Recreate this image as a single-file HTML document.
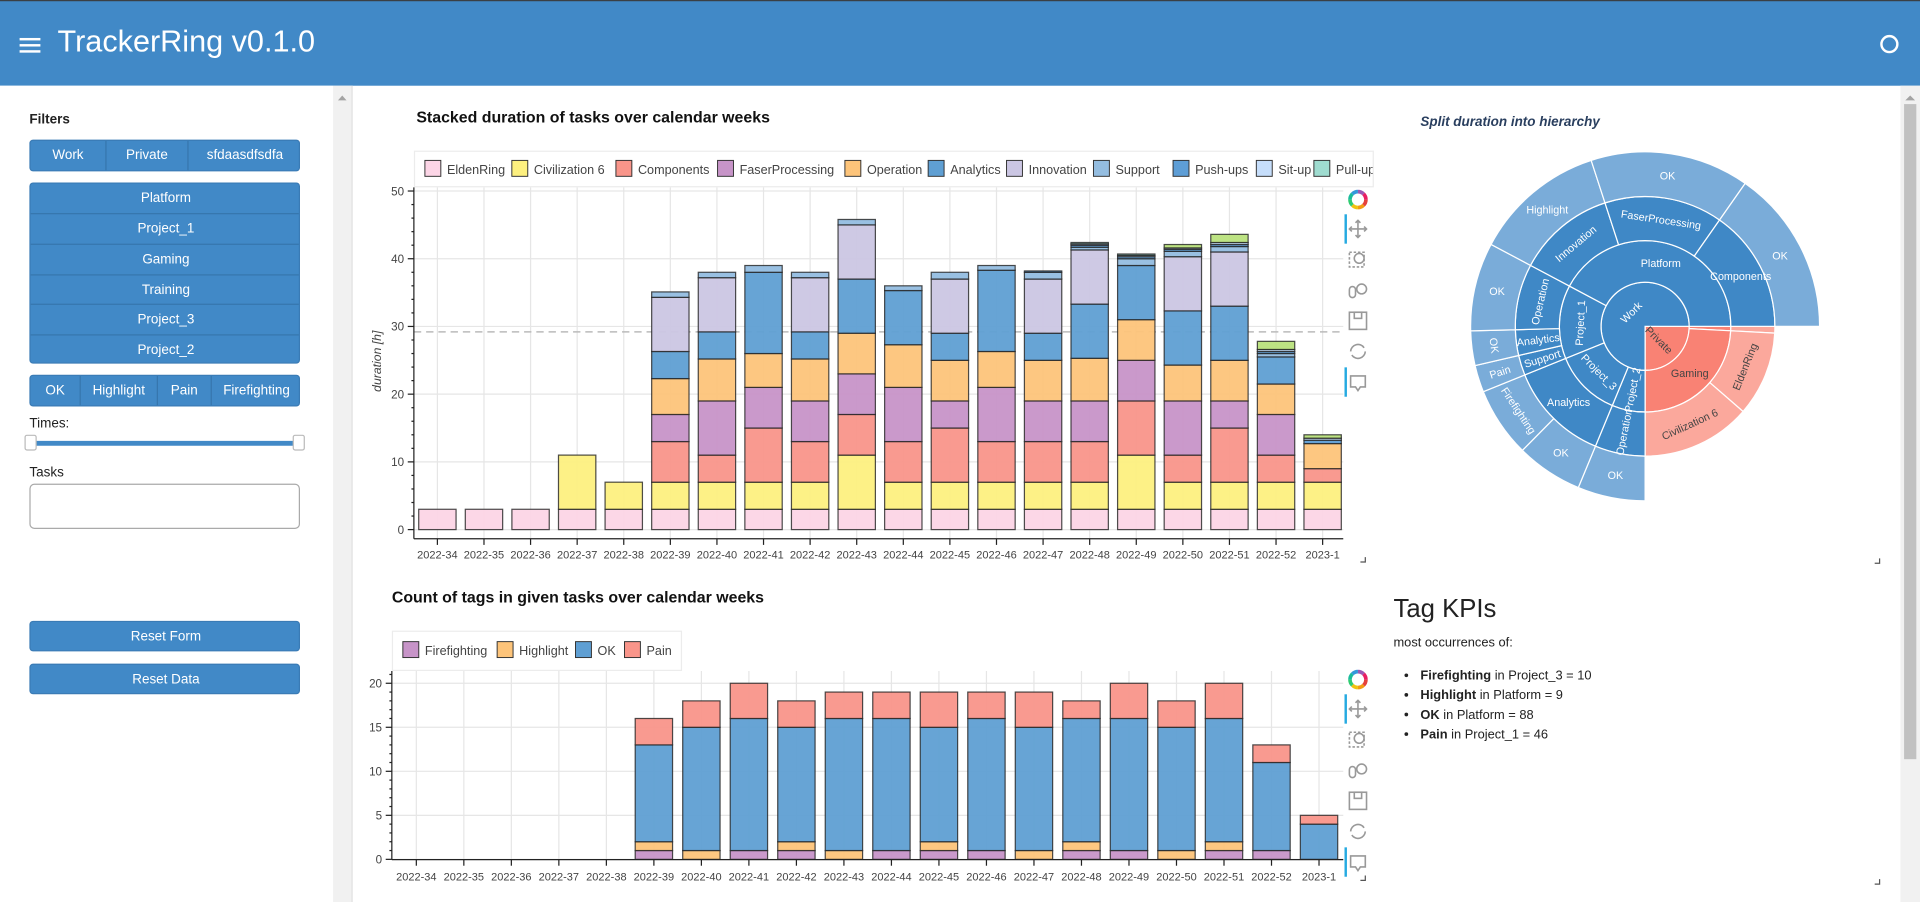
<!DOCTYPE html>
<html><head><meta charset="utf-8">
<style>
html,body{margin:0;padding:0;width:1920px;height:902px;overflow:hidden;background:#fff;font-family:"Liberation Sans",sans-serif;}
#root{position:absolute;left:0;top:0;width:1568px;height:737px;transform:scale(1.22449);transform-origin:0 0;overflow:hidden;background:#fff;}
.hdr{position:absolute;left:0;top:0;width:1568px;height:70px;background:#4189c7;border-top:1px solid #3a3f44;box-sizing:border-box;}
.ttl{position:absolute;left:47px;top:19px;font-size:25px;color:#fff;}
.side{position:absolute;left:0;top:70px;width:272px;height:667px;background:#fff;}
.grp{position:absolute;left:24px;width:221px;background:#4189c7;border-radius:3px;border:1px solid #3a7bb5;box-sizing:border-box;overflow:hidden}
.grp div{position:absolute;color:#fff;font-size:11px;text-align:center;box-sizing:border-box;}
.lbl{position:absolute;font-size:11px;color:#222;}
</style></head><body>
<div id="root">
<div class="hdr">
  <svg style="position:absolute;left:15px;top:29px" width="20" height="14"><rect x="1" y="1" width="17" height="2" fill="#fff"/><rect x="1" y="6" width="17" height="2" fill="#fff"/><rect x="1" y="11" width="17" height="2" fill="#fff"/></svg>
  <div class="ttl">TrackerRing v0.1.0</div>
  <svg style="position:absolute;left:1534px;top:26px" width="18" height="18"><circle cx="9" cy="9" r="6.5" fill="none" stroke="#fff" stroke-width="2"/></svg>
</div>
<div class="side">
  <div class="lbl" style="left:24px;top:22px;font-weight:bold">Filters</div>
  <div class="grp" style="top:44px;height:26px">
    <div style="left:0;width:61px;top:0;height:26px;padding-top:6px">Work</div>
    <div style="left:61px;width:67px;top:0;height:26px;padding-top:6px;border-left:1px solid #3676ad">Private</div>
    <div style="left:128px;width:93px;top:0;height:26px;padding-top:6px;border-left:1px solid #3676ad">sfdaasdfsdfa</div>
  </div>
  <div class="grp" style="top:78.5px;height:148px">
    <div style="left:0;width:221px;top:0;height:24.7px;padding-top:6px">Platform</div>
    <div style="left:0;width:221px;top:24.7px;height:24.7px;padding-top:6px;border-top:1px solid #3676ad">Project_1</div>
    <div style="left:0;width:221px;top:49.4px;height:24.7px;padding-top:6px;border-top:1px solid #3676ad">Gaming</div>
    <div style="left:0;width:221px;top:74.1px;height:24.7px;padding-top:6px;border-top:1px solid #3676ad">Training</div>
    <div style="left:0;width:221px;top:98.8px;height:24.7px;padding-top:6px;border-top:1px solid #3676ad">Project_3</div>
    <div style="left:0;width:221px;top:123.5px;height:24.7px;padding-top:6px;border-top:1px solid #3676ad">Project_2</div>
  </div>
  <div class="grp" style="top:235.5px;height:26px">
    <div style="left:0;width:40px;top:0;height:26px;padding-top:6px">OK</div>
    <div style="left:40px;width:63px;top:0;height:26px;padding-top:6px;border-left:1px solid #3676ad">Highlight</div>
    <div style="left:103px;width:44px;top:0;height:26px;padding-top:6px;border-left:1px solid #3676ad">Pain</div>
    <div style="left:147px;width:74px;top:0;height:26px;padding-top:6px;border-left:1px solid #3676ad">Firefighting</div>
  </div>
  <div class="lbl" style="left:24px;top:270px">Times:</div>
  <div style="position:absolute;left:26px;top:290px;width:218px;height:4px;background:#4189c7;border-radius:2px"></div>
  <div style="position:absolute;left:20px;top:285px;width:10px;height:13px;background:#fff;border:1px solid #bbb;border-radius:2px;box-sizing:border-box"></div>
  <div style="position:absolute;left:239px;top:285px;width:10px;height:13px;background:#fff;border:1px solid #bbb;border-radius:2px;box-sizing:border-box"></div>
  <div class="lbl" style="left:24px;top:310px">Tasks</div>
  <div style="position:absolute;left:24px;top:325px;width:221px;height:37px;border:1px solid #aaa;border-radius:4px;box-sizing:border-box"></div>
  <div class="grp" style="top:437px;height:25px"><div style="left:0;width:221px;top:6px">Reset Form</div></div>
  <div class="grp" style="top:472px;height:25px"><div style="left:0;width:221px;top:6px">Reset Data</div></div>
</div>
<div style="position:absolute;left:272px;top:70px;width:15px;height:667px;background:#f1f1f1;border-right:1px solid #e0e0e0">
  <svg width="15" height="15" style="position:absolute;top:2px"><polygon points="4,10 11,10 7.5,6" fill="#a3a3a3"/></svg>
</div>
<div style="position:absolute;left:1552px;top:70px;width:16px;height:667px;background:#f1f1f1">
  <svg width="16" height="15" style="position:absolute;top:2px"><polygon points="4,10 12,10 8,6" fill="#a3a3a3"/></svg>
  <div style="position:absolute;left:3px;top:15px;width:10px;height:535px;background:#c1c1c1"></div>
</div>

<svg id="charts" width="1552" height="737" style="position:absolute;left:0;top:0" font-family="Liberation Sans, sans-serif"></svg>

<div style="position:absolute;left:1138px;top:486px;font-size:21px;color:#222">Tag KPIs</div>
<div style="position:absolute;left:1138px;top:519px;font-size:10.5px;color:#222">most occurrences of:</div>
<ul style="position:absolute;left:1122px;top:544px;margin:0;font-size:10.5px;color:#222;line-height:16px;padding-left:38px">
<li><b>Firefighting</b> in Project_3 = 10</li>
<li><b>Highlight</b> in Platform = 9</li>
<li><b>OK</b> in Platform = 88</li>
<li><b>Pain</b> in Project_1 = 46</li>
</ul>
</div>
<script>
// ---------- chart 1 data ----------
const weeks = ["2022-34","2022-35","2022-36","2022-37","2022-38","2022-39","2022-40","2022-41","2022-42","2022-43","2022-44","2022-45","2022-46","2022-47","2022-48","2022-49","2022-50","2022-51","2022-52","2023-1"];
const taskNames = ["EldenRing","Civilization 6","Components","FaserProcessing","Operation","Analytics","Innovation","Support","Push-ups","Sit-up","Pull-up","Plank"];
const eldenRing  = [3,3,3,3,3,3,3,3,3,3,3,3,3,3,3,3,3,3,3,3];
const civ6       = [0,0,0,8,4,4,4,4,4,8,4,4,4,4,4,8,4,4,4,4];
const components = [0,0,0,0,0,6,4,8,6,6,6,8,6,6,6,8,4,8,4,2];
const faser      = [0,0,0,0,0,4,8,6,6,6,8,4,8,6,6,6,8,4,6,0];
const operation  = [0,0,0,0,0,5.3,6.2,5,6.2,6,6.3,6,5.3,6,6.3,6,5.3,6,4.5,3.7];
const analytics  = [0,0,0,0,0,4,4,12,4,8,8,4,12,4,8,8,8,8,4,0];
const innovation = [0,0,0,0,0,8,8,0,8,8,0,8,0,8,8,0,8,8,0,0];
const support    = [0,0,0,0,0,0.8,0.8,1,0.8,0.8,0.7,1,0.7,1,0.4,1,0.8,0.8,0.5,0];
const pushups    = [0,0,0,0,0,0,0,0,0,0,0,0,0,0.2,0.3,0.3,0.3,0.3,0.3,0.5];
const situp      = [0,0,0,0,0,0,0,0,0,0,0,0,0,0,0.2,0.2,0.2,0.3,0.3,0.3];
const pullup     = [0,0,0,0,0,0,0,0,0,0,0,0,0,0,0.2,0.2,0,0,0,0];
const plank      = [0,0,0,0,0,0,0,0,0,0,0,0,0,0,0,0,0.5,1.2,1.2,0.5];
const meanDuration = 29.2;
const yTicks1 = [0,10,20,30,40,50];
// ---------- chart 2 data ----------
const tagNames = ["Firefighting","Highlight","OK","Pain"];
const firefighting = [0,0,0,0,0,1,0,1,1,0,1,1,1,0,1,1,0,1,1,0];
const highlight    = [0,0,0,0,0,1,1,0,1,1,0,1,0,1,1,0,1,1,0,0];
const okTag        = [0,0,0,0,0,11,14,15,13,15,15,13,15,14,14,15,14,14,10,4];
const pain         = [0,0,0,0,0,3,3,4,3,3,3,4,3,4,2,4,3,4,2,1];
const yTicks2 = [0,5,10,15,20];
// ---------- sunburst data ----------
const leafPaths = [
 ["Private","Training","Training"],
 ["Private","Gaming","EldenRing"],
 ["Private","Gaming","Civilization 6"],
 ["Work","Project_2","Operation","OK"],
 ["Work","Project_3","Analytics","OK"],
 ["Work","Project_3","Analytics","Firefighting"],
 ["Work","Project_1","Support","Pain"],
 ["Work","Project_1","Analytics","OK"],
 ["Work","Project_1","Operation","OK"],
 ["Work","Platform","Innovation","Highlight"],
 ["Work","Platform","FaserProcessing","OK"],
 ["Work","Platform","Components","OK"]
];
const leafValues = [3,38,49,22.5,22.2,23.3,9,11.5,29.5,44,53,55];

const NS="http://www.w3.org/2000/svg";
const svg=document.getElementById('charts');
function mk(tag,attrs,parent){const e=document.createElementNS(NS,tag);for(const k in attrs)e.setAttribute(k,attrs[k]);(parent||svg).appendChild(e);return e;}
function txt(x,y,s,attrs,parent){const t=mk('text',Object.assign({x:x,y:y},attrs),parent);t.textContent=s;return t;}

const taskColors=["#fcd5e6","#fdf07f","#f9958a","#c794c8","#fdc47a","#5f9fd3","#cbc6e3","#94bde0","#5e9ed6","#c6defb","#9fdcd0","#b9e27c"];
const tagColors=["#c794c8","#fdc47a","#5f9fd3","#f9958a"];

function toolbar(x,y0,name){
  const g=mk('g',{});
  
  
  const cols=["#e5413a","#f39c12","#f1c40f","#2ecc71","#1abc9c","#3498db","#9b59b6","#e91e63"];
  for(let i=0;i<8;i++){const a0=i*Math.PI/4,a1=a0+Math.PI/4;mk('path',{d:`M${x+6.5*Math.cos(a0)} ${y0+6.5*Math.sin(a0)} A6.5 6.5 0 0 1 ${x+6.5*Math.cos(a1)} ${y0+6.5*Math.sin(a1)}`,stroke:cols[i],'stroke-width':3,fill:'none'},g);}
  const ic=mk('g',{stroke:'#999','stroke-width':1.3,fill:'none'},g);
  let y=y0+24;
  mk('path',{d:`M${x-7} ${y}H${x+7}M${x} ${y-7}V${y+7}M${x-5} ${y-2}L${x-7} ${y}L${x-5} ${y+2}M${x+5} ${y-2}L${x+7} ${y}L${x+5} ${y+2}M${x-2} ${y-5}L${x} ${y-7}L${x+2} ${y-5}M${x-2} ${y+5}L${x} ${y+7}L${x+2} ${y+5}`},ic);
  y+=25; mk('rect',{x:x-7,y:y-6,width:12,height:12,'stroke-dasharray':'2 1.5'},ic); mk('circle',{cx:x+1,cy:y-1,r:4},ic);
  y+=25; mk('rect',{x:x-7,y:y-3,width:5,height:9,rx:2.5},ic); mk('circle',{cx:x+3,cy:y-1,r:4},ic);
  y+=25; mk('rect',{x:x-7,y:y-7,width:14,height:14},ic); mk('rect',{x:x-3,y:y-7,width:6,height:5},ic);
  y+=25; mk('path',{d:`M${x-6} ${y}A6 6 0 0 1 ${x+5} ${y-3}M${x+6} ${y}A6 6 0 0 1 ${x-5} ${y+3}`},ic);
  y+=25; mk('path',{d:`M${x-6} ${y-5}H${x+6}V${y+4}H${x+2}L${x} ${y+7}L${x-2} ${y+4}H${x-6}Z`},ic);
  mk('rect',{x:x-11,y:y0+12,width:2,height:24,fill:'#26aae1',stroke:'none'},g);
  mk('rect',{x:x-11,y:y0+137,width:2,height:24,fill:'#26aae1',stroke:'none'},g);
}

// ---------- chart 1 ----------
(function(){
  const y0=432.5,sc=5.53, xl=338, xr=1097, top=153, axisY=440;
  const X=i=>357.2+i*38.05, Y=v=>y0-v*sc, bw=30.5;
  txt(340,100,"Stacked duration of tasks over calendar weeks",{'font-size':13,'font-weight':'bold',fill:'#111'});
  const lg=mk('g',{});
  
  
  mk('rect',{x:338.5,y:123.5,width:783,height:29,fill:'#fff',stroke:'#ececec'},lg);
  const lgx=[347,418,503,586,690,758,822,893,958,1026,1073,1140];
  const clip=mk('clipPath',{id:'lc'});mk('rect',{x:338,y:120,width:783,height:40},clip);
  const lgi=mk('g',{'clip-path':'url(#lc)'},lg);
  taskNames.forEach((n,i)=>{
    mk('rect',{x:lgx[i],y:131,width:13,height:13,fill:taskColors[i],stroke:'#333','stroke-width':0.8},lgi);
    txt(lgx[i]+18,142,n,{'font-size':10.3,fill:'#444'},lgi);
  });
  const grid=mk('g',{stroke:'#e6e6e6','stroke-width':1});
  
  yTicks1.forEach(t=>mk('line',{x1:xl,x2:xr,y1:Y(t),y2:Y(t)},grid));
  weeks.forEach((w,i)=>mk('line',{x1:X(i),x2:X(i),y1:top,y2:axisY},grid));
  mk('line',{x1:xl,x2:xr,y1:Y(meanDuration),y2:Y(meanDuration),stroke:'#bbb','stroke-width':1.3,'stroke-dasharray':'6 4'});
  const series=[eldenRing,civ6,components,faser,operation,analytics,innovation,support,pushups,situp,pullup,plank];
  const bars=mk('g',{});
  
  weeks.forEach((w,i)=>{
    let acc=0;
    series.forEach((s,k)=>{
      const v=s[i]; if(!v)return;
      const r=mk('rect',{x:X(i)-bw/2,y:Y(acc+v),width:bw,height:v*sc,fill:taskColors[k],'fill-opacity':0.95,stroke:'#222','stroke-opacity':0.8,'stroke-width':1},bars);
      
      
      acc+=v;
    });
  });
  const ax=mk('g',{stroke:'#222','stroke-width':1});
  
  mk('line',{x1:xl,x2:xl,y1:top,y2:axisY},ax);
  mk('line',{x1:xl,x2:xr,y1:axisY,y2:axisY},ax);
  for(let v=0;v<=50;v+=2){mk('line',{x1:xl-(v%10==0?5:2),x2:xl,y1:Y(v),y2:Y(v)},ax);}
  yTicks1.forEach(t=>txt(xl-8,Y(t)+3.5,String(t),{'font-size':9.5,fill:'#444','text-anchor':'end'}));
  weeks.forEach((w,i)=>{mk('line',{x1:X(i),x2:X(i),y1:axisY,y2:axisY+5},ax);txt(X(i),axisY+16,w,{'font-size':9,fill:'#444','text-anchor':'middle'});});
  const yl=txt(0,0,"duration [h]",{'font-size':10,'font-style':'italic',fill:'#444','text-anchor':'middle',transform:'translate(311,295) rotate(-90)'});
  
  toolbar(1109,163,'chart1-toolbar');
  mk('path',{d:'M1115 455V459H1111',stroke:'#555',fill:'none'});
})();

// ---------- chart 2 ----------
(function(){
  const y0=701.8,sc=7.19,xl=320,xr=1097,top=548,axisY=702;
  const X=i=>340+i*38.8,Y=v=>y0-v*sc,bw=30.5;
  txt(320,492,"Count of tags in given tasks over calendar weeks",{'font-size':13,'font-weight':'bold',fill:'#111'});
  const lg=mk('g',{});
  
  
  mk('rect',{x:320.5,y:515.5,width:236,height:32,fill:'#fff',stroke:'#ececec'},lg);
  const lgx=[329,406,470,510];
  tagNames.forEach((n,i)=>{mk('rect',{x:lgx[i],y:524,width:13,height:13,fill:tagColors[i],stroke:'#333','stroke-width':0.8},lg);txt(lgx[i]+18,535,n,{'font-size':10.3,fill:'#444'},lg);});
  const grid=mk('g',{stroke:'#e6e6e6'});
  
  yTicks2.forEach(t=>mk('line',{x1:xl,x2:xr,y1:Y(t),y2:Y(t)},grid));
  weeks.forEach((w,i)=>mk('line',{x1:X(i),x2:X(i),y1:top,y2:axisY},grid));
  const series=[firefighting,highlight,okTag,pain];
  const bars=mk('g',{});
  
  weeks.forEach((w,i)=>{
    let acc=0;
    series.forEach((s,k)=>{
      const v=s[i]; if(!v)return;
      const r=mk('rect',{x:X(i)-bw/2,y:Y(acc+v),width:bw,height:v*sc,fill:tagColors[k],'fill-opacity':0.95,stroke:'#222','stroke-opacity':0.8},bars);
      
      
      acc+=v;
    });
  });
  const ax=mk('g',{stroke:'#222'});
  
  mk('line',{x1:xl,x2:xl,y1:top,y2:axisY},ax);
  mk('line',{x1:xl,x2:xr,y1:axisY,y2:axisY},ax);
  for(let v=0;v<=21;v++){mk('line',{x1:xl-(v%5==0?5:2),x2:xl,y1:Y(v),y2:Y(v)},ax);}
  yTicks2.forEach(t=>txt(xl-8,Y(t)+3.5,String(t),{'font-size':9.5,fill:'#444','text-anchor':'end'}));
  weeks.forEach((w,i)=>{mk('line',{x1:X(i),x2:X(i),y1:axisY,y2:axisY+5},ax);txt(X(i),axisY+17,w,{'font-size':9,fill:'#444','text-anchor':'middle'});});
  toolbar(1109,555,'chart2-toolbar');
  mk('path',{d:'M1115 715V719H1111',stroke:'#555',fill:'none'});
  mk('path',{d:'M1535 456V460H1531',stroke:'#555',fill:'none'});
  mk('path',{d:'M1535 718V722H1531',stroke:'#555',fill:'none'});
})();

// ---------- sunburst ----------
(function(){
  const cx=1343.5,cy=266.5,R=[0,36,70,106,142.5];
  const t=txt(1160,103,"Split duration into hierarchy",{'font-size':11,'font-style':'italic','font-weight':'bold',fill:'#2a3f5f'});
  
  const total=leafValues.reduce((a,b)=>a+b,0);
  const nodes={},order=[];
  let acc=0;
  leafPaths.forEach((p,i)=>{
    const a0=acc/total*360,a1=(acc+leafValues[i])/total*360;
    for(let d=1;d<=p.length;d++){
      const key=p.slice(0,d).join('/');
      if(!nodes[key]){nodes[key]={path:p.slice(0,d),a0:a0,a1:a1};order.push(key);}
      else nodes[key].a1=a1;
    }
    acc+=leafValues[i];
  });
  const g=mk('g',{});
  
  const rad=a=>a*Math.PI/180;
  const pt=(r,a)=>[cx+r*Math.cos(rad(a)),cy+r*Math.sin(rad(a))];
  const labels=[];
  order.forEach(key=>{
    const n=nodes[key],d=n.path.length,r0=R[d-1],r1=R[d];
    const work=n.path[0]==="Work";
    const col=work?(d===4?'#7aacd9':'#3f88c6'):(d===3?'#fba89c':'#f98274');
    const large=(n.a1-n.a0)>180?1:0;
    const [x1,y1]=pt(r1,n.a0),[x2,y2]=pt(r1,n.a1);
    let dd;
    if(r0===0) dd=`M${cx} ${cy}L${x1} ${y1}A${r1} ${r1} 0 ${large} 1 ${x2} ${y2}Z`;
    else{const [x3,y3]=pt(r0,n.a1),[x4,y4]=pt(r0,n.a0);dd=`M${x1} ${y1}A${r1} ${r1} 0 ${large} 1 ${x2} ${y2}L${x3} ${y3}A${r0} ${r0} 0 ${large} 0 ${x4} ${y4}Z`;}
    const s=mk('path',{d:dd,fill:col,stroke:'#fff','stroke-width':1},g);
    
    
    const label=n.path[d-1];
    const span=n.a1-n.a0, mid=(n.a0+n.a1)/2;
    const rm=r0===0?16:(r0+r1)/2;
    const thick=r1-r0;
    const arcLen=rm*rad(span), tw=label.length*4.8;
    let rot;
    if(arcLen<10) return;
    if(d>=2 && arcLen>=tw+25 && thick>=30) rot=0;
    else{
      const tang=Math.min(arcLen/tw,thick/10), radl=Math.min(thick/tw,arcLen/10);
      rot=tang>=radl?mid+90:mid;
      rot=((rot%360)+360)%360; if(rot>90&&rot<=270) rot-=180; if(rot>180) rot-=360;
    }
    const [lx,ly]=pt(rm,mid);
    labels.push([label,lx,ly,rot,work]);
  });
  labels.forEach(l=>txt(0,0,l[0],{'font-size':8.8,fill:l[4]?'#fff':'#444','text-anchor':'middle',transform:`translate(${l[1]},${l[2]}) rotate(${l[3]}) translate(0,3)`},g));
})();
</script>
</body></html>
